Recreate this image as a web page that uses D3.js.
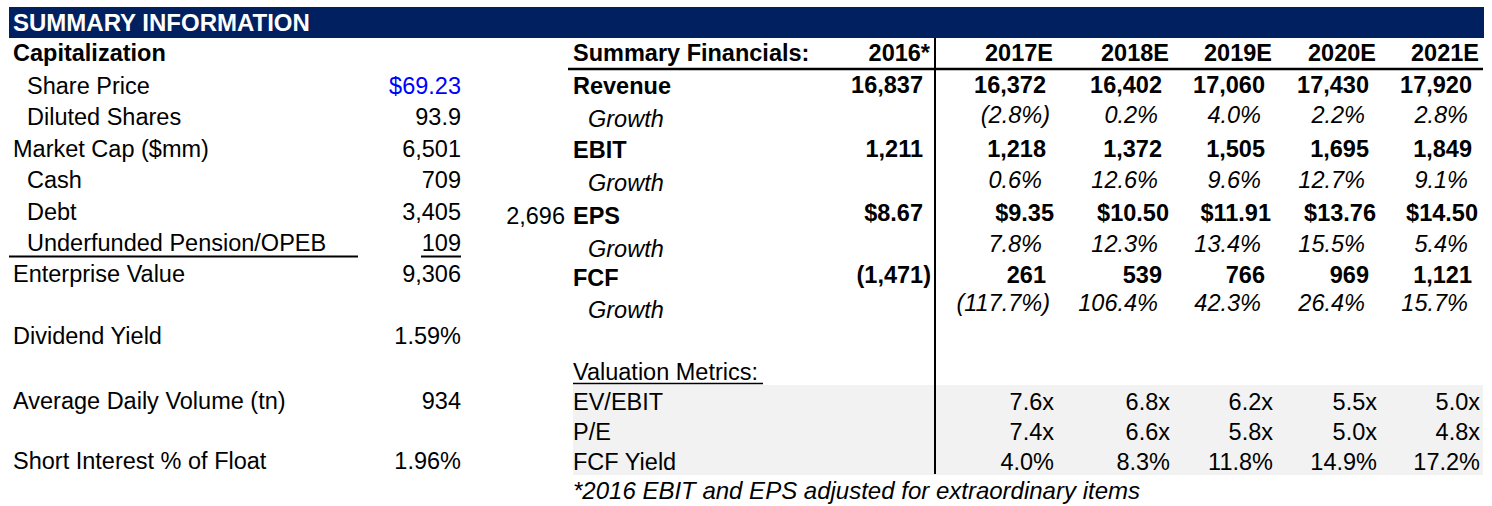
<!DOCTYPE html>
<html>
<head>
<meta charset="utf-8">
<script src="https://cdn.jsdelivr.net/npm/d3@7"></script>
<style>
  body { margin: 0; background: #fff; }
  svg text { font-family: "Liberation Sans", Arial, sans-serif; font-size: 23.5px; fill: #000; }
</style>
</head>
<body>
<svg id="chart" width="1492" height="506"></svg>
<script>
// left block: capitalization
const capLabels = ['Share Price', 'Diluted Shares', 'Market Cap ($mm)', 'Cash', 'Debt',
  'Underfunded Pension/OPEB', 'Enterprise Value', 'Dividend Yield',
  'Average Daily Volume (tn)', 'Short Interest % of Float'];
const capValues = ['$69.23', '93.9', '6,501', '709', '3,405', '109', '9,306', '1.59%', '934', '1.96%'];
const capIndent = [true, true, false, true, true, true, false, false, false, false];

// right block: summary financials
const years = ['2016*', '2017E', '2018E', '2019E', '2020E', '2021E'];
const revenue = [16837, 16372, 16402, 17060, 17430, 17920];
const revenueGrowth = [null, -2.8, 0.2, 4.0, 2.2, 2.8];
const ebit = [1211, 1218, 1372, 1505, 1695, 1849];
const ebitGrowth = [null, 0.6, 12.6, 9.6, 12.7, 9.1];
const eps = [8.67, 9.35, 10.50, 11.91, 13.76, 14.50];
const epsGrowth = [null, 7.8, 12.3, 13.4, 15.5, 5.4];
const fcf = [-1471, 261, 539, 766, 969, 1121];
const fcfGrowth = [null, -117.7, 106.4, 42.3, 26.4, 15.7];
const strayValue = [2696];

// valuation metrics
const valLabels = ['EV/EBIT', 'P/E', 'FCF Yield'];
const evEbit = [null, 7.6, 6.8, 6.2, 5.5, 5.0];
const pe = [null, 7.4, 6.6, 5.8, 5.0, 4.8];
const fcfYield = [null, 4.0, 8.3, 11.8, 14.9, 17.2];

const svg = d3.select('#chart');

// formats
const fNum = d3.format(',');
const f1 = d3.format('.1f');
const f2 = d3.format('.2f');
const paren = (s, neg) => neg ? '(' + s + ')' : s;
const num = v => paren(fNum(Math.abs(v)), v < 0);
const pct = v => paren(f1(Math.abs(v)) + '%', v < 0);
const dollars = v => '$' + f2(v);
const mult = v => f1(v) + 'x';

// column right edges
const colX = d3.scaleOrdinal().domain(years).range([930, 1053, 1169, 1272, 1376, 1479]);

// header bar
svg.append('rect').attr('x', 9).attr('y', 7).attr('width', 1475).attr('height', 31).attr('fill', '#002060');
svg.append('text').attr('x', 13).attr('y', 31).attr('font-weight', 'bold').style('fill', '#fff')
  .style('font-size', '24px').text('SUMMARY INFORMATION');

// ---- left side ----
svg.append('text').attr('x', 13).attr('y', 61).attr('font-weight', 'bold').text('Capitalization');
const capY = [94, 125, 157, 188, 220, 251, 282, 344, 409, 469];
const cap = svg.append('g');
capLabels.forEach((lab, i) => {
  cap.append('text').attr('x', capIndent[i] ? 27 : 13).attr('y', capY[i]).text(lab);
  cap.append('text').attr('x', 461).attr('y', capY[i]).attr('text-anchor', 'end')
    .style('fill', i === 0 ? '#0000ff' : '#000').text(capValues[i]);
});
cap.append('line').attr('x1', 9).attr('x2', 358).attr('y1', 256.5).attr('y2', 256.5).attr('stroke', '#000').attr('stroke-width', 2);
cap.append('line').attr('x1', 421).attr('x2', 461).attr('y1', 256.5).attr('y2', 256.5).attr('stroke', '#000').attr('stroke-width', 2);

// ---- right side ----
// gray band behind valuation metrics
svg.append('rect').attr('x', 573).attr('y', 385).attr('width', 910).attr('height', 90).attr('fill', '#f2f2f2');

svg.append('text').attr('x', 573).attr('y', 61).attr('font-weight', 'bold').text('Summary Financials:');
svg.selectAll('text.year').data(years).join('text')
  .attr('class', 'year').attr('x', d => colX(d)).attr('y', 61)
  .attr('text-anchor', 'end').attr('font-weight', 'bold').text(d => d);

svg.append('line').attr('x1', 568).attr('x2', 1483).attr('y1', 69).attr('y2', 69).attr('stroke', '#000').attr('stroke-width', 2.5);
svg.append('line').attr('x1', 935).attr('x2', 935).attr('y1', 38).attr('y2', 474).attr('stroke', '#000').attr('stroke-width', 2);

const rows = [
  { label: 'Revenue', values: revenue, fmt: num, bold: true, pad: [7, 7, 7, 7, 7, 7] },
  { label: 'Growth', values: revenueGrowth, fmt: pct, italic: true, pad: [11, 11, 11, 11, 11, 11] },
  { label: 'EBIT', values: ebit, fmt: num, bold: true, pad: [7, 7, 7, 7, 7, 7] },
  { label: 'Growth', values: ebitGrowth, fmt: pct, italic: true, pad: [11, 11, 11, 11, 11, 11] },
  { label: 'EPS', values: eps, fmt: dollars, bold: true, pad: [7, -1, 0, 1, 0, 1] },
  { label: 'Growth', values: epsGrowth, fmt: pct, italic: true, pad: [11, 11, 11, 11, 11, 11] },
  { label: 'FCF', values: fcf, fmt: num, bold: true, pad: [7, 7, 7, 7, 7, 7] },
  { label: 'Growth', values: fcfGrowth, fmt: pct, italic: true, pad: [11, 11, 11, 11, 11, 11] }
];
const labelY = [94, 127, 158, 191, 224, 257, 286, 318];
const valueY = [93, 123, 157, 188, 221, 252, 283, 311];

rows.forEach((r, i) => {
  svg.append('text').attr('x', r.italic ? 588 : 573).attr('y', labelY[i])
    .attr('font-weight', r.bold ? 'bold' : null).attr('font-style', r.italic ? 'italic' : null)
    .text(r.label);
  const cells = years.map((y, j) => ({ year: y, v: r.values[j], pad: r.pad[j] })).filter(d => d.v != null);
  svg.append('g').selectAll('text').data(cells).join('text')
    .attr('x', d => colX(d.year) - (d.v < 0 ? (r.italic ? 3 : -1) : d.pad))
    .attr('y', valueY[i])
    .attr('text-anchor', 'end')
    .attr('font-weight', r.bold ? 'bold' : null).attr('font-style', r.italic ? 'italic' : null)
    .text(d => r.fmt(d.v));
});

// stray cell left of EPS
svg.append('text').attr('x', 565).attr('y', 224).attr('text-anchor', 'end').text(fNum(strayValue[0]));

// valuation metrics
svg.append('text').attr('x', 573).attr('y', 380).text('Valuation Metrics:');
svg.append('line').attr('x1', 573).attr('x2', 763).attr('y1', 383.5).attr('y2', 383.5).attr('stroke', '#000').attr('stroke-width', 1.5);

const valRows = [
  { values: evEbit, fmt: mult },
  { values: pe, fmt: mult },
  { values: fcfYield, fmt: v => f1(v) + '%' }
];
const valY = [410, 440, 470];
valRows.forEach((r, i) => {
  svg.append('text').attr('x', 573).attr('y', valY[i]).text(valLabels[i]);
  const cells = years.map((y, j) => ({ year: y, v: r.values[j] })).filter(d => d.v != null);
  svg.append('g').selectAll('text').data(cells).join('text')
    .attr('x', d => colX(d.year) + 1).attr('y', valY[i]).attr('text-anchor', 'end')
    .text(d => r.fmt(d.v));
});

svg.append('text').attr('x', 573).attr('y', 499).attr('font-style', 'italic')
  .style('font-size', '24px').text('*2016 EBIT and EPS adjusted for extraordinary items');
</script>
</body>
</html>
